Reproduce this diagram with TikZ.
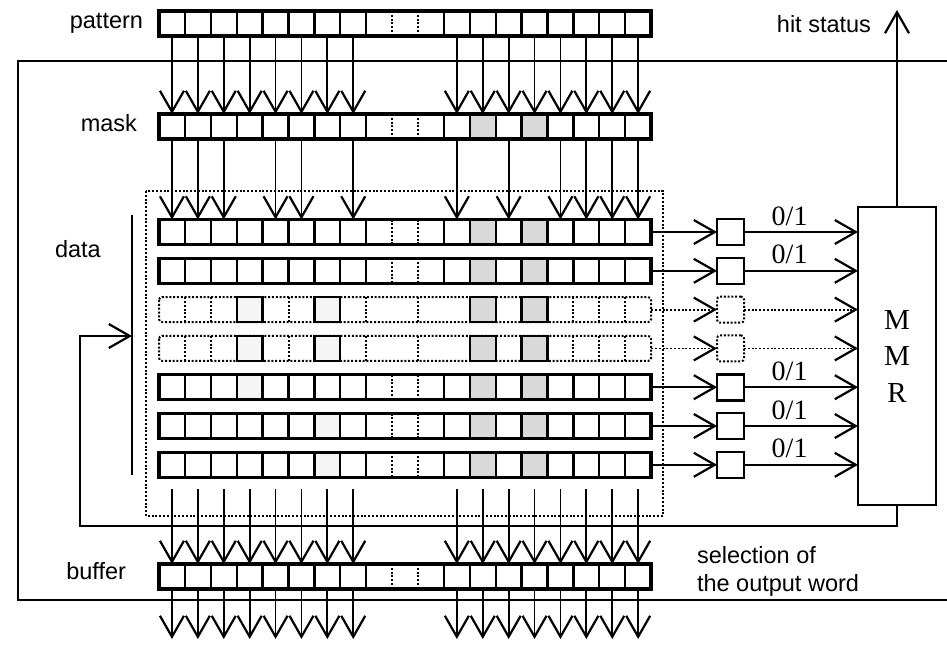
\documentclass[tikz,border=0pt]{standalone}
\usepackage{fontspec}
\setmainfont{Liberation Sans}
\newfontfamily\romfont{Liberation Serif}
\usetikzlibrary{arrows.meta}

\begin{document}
\begin{tikzpicture}[x=1pt, y=-1pt,
    every node/.style={inner sep=0pt, outer sep=0pt},
    cell/.style={draw, line width=2.3pt, minimum width=25.9pt, minimum height=25pt},
    ghost/.style={minimum width=25.9pt, minimum height=25pt},
    regline/.style={line width=3.4pt},
    dotline/.style={line width=2pt, dash pattern=on 2pt off 1.8pt},
    shaded/.style={fill=gray!30, draw, line width=2.3pt},
    faint/.style={fill=gray!8, draw, line width=2.3pt},
    bus/.style={line width=1.8pt, -{Straight Barb[length=21pt, width=24pt, line width=2.2pt]}},
    dotbus/.style={bus, dash pattern=on 2pt off 1.8pt},
    wire/.style={line width=2pt},
    cmp/.style={draw, line width=2.6pt, minimum width=27pt, minimum height=26pt},
    lbl/.style={font=\fontsize{23.5}{27}\selectfont},
    bit/.style={font=\romfont\fontsize{28}{30}\selectfont}]
    \useasboundingbox (0,0) rectangle (947,646);
    \def\bits{1,2,3,4,5,6,7,8,12,13,14,15,16,17,18,19}
    \foreach \r/\y in {pat/23.5, msk/126.5, d1/232, d2/270.8, d5/387.2, d6/426, d7/464.8, buf/576.5}{
        \foreach \c in \bits
            \node[cell] (\r-\c) at ({159+(\c-0.5)*25.9},\y) {};
        \foreach \c in {9,10,11}
            \node[ghost] (\r-\c) at ({159+(\c-0.5)*25.9},\y) {};
        \draw[dotline] (\r-9.north east) -- (\r-9.south east);
        \draw[dotline] (\r-10.north east) -- (\r-10.south east);
    }
    \foreach \r in {msk,d1,d2,d5,d6,d7}
        \foreach \c in {13,15}
            \path[shaded] (\r-\c.north west) rectangle (\r-\c.south east);
    \foreach \r/\c in {d5/4, d6/7, d7/7}
        \path[faint] (\r-\c.north west) rectangle (\r-\c.south east);
    \foreach \r in {pat,msk,d1,d2,d5,d6,d7,buf}
        \draw[regline] (\r-1.north west) rectangle (\r-19.south east);
    \foreach \r/\y in {d3/309.6, d4/348.4}{
        \foreach \c in {1,...,19}
            \node[ghost] (\r-\c) at ({159+(\c-0.5)*25.9},\y) {};
        \draw[dotline, rounded corners=3pt] (\r-1.north west) rectangle (\r-19.south east);
        \foreach \c in {1,2,5,8,10,16,17,18}
            \draw[dotline] (\r-\c.north east) -- (\r-\c.south east);
        \foreach \c in {4,7}
            \path[faint] (\r-\c.north west) rectangle (\r-\c.south east);
        \foreach \c in {13,15}
            \path[shaded] (\r-\c.north west) rectangle (\r-\c.south east);
    }
    \draw[dotline] (146,191) rectangle (663,516);
    \foreach \c in \bits
        \draw[bus] (pat-\c.south) -- (msk-\c.north);
    \foreach \c in {1,2,3,5,6,8,12,14,16,17,18,19}
        \draw[bus] (msk-\c.south) -- (d1-\c.north);
    \foreach \c in \bits
        \draw[bus] ([yshift=-12pt]d7-\c.south) -- (buf-\c.north);
    \foreach \c in \bits
        \draw[bus] (buf-\c.south) -- ++(0,50);
    \node[draw, line width=2.4pt, minimum width=78pt, minimum height=298pt, align=center,
        font=\romfont\fontsize{29}{36.5}\selectfont] (mmr) at (897,356) {M\\M\\R};
    \foreach \i/\y in {1/232, 2/270.8, 5/387.2, 6/426, 7/464.8}{
        \node[cmp] (q\i) at (730.5,\y) {};
        \draw[bus] (d\i-19.east) -- (q\i.west);
        \draw[bus] (q\i.east) -- (q\i.east -| mmr.west)
            node[bit, pos=0.4, anchor=base, yshift=7pt] (v\i) {0/1};
    }
    \foreach \i/\y in {3/309.6, 4/348.4}{
        \node[cmp, dash pattern=on 2pt off 1.8pt, line width=2pt, rounded corners=3pt] (q\i) at (730.5,\y) {};
        \draw[dotbus] (d\i-19.east) -- (q\i.west);
        \draw[dotbus] (q\i.east) -- (q\i.east -| mmr.west);
    }
    \coordinate (hittip) at (899,10);
    \draw[bus] (mmr.north) -- (mmr.north |- hittip);
    \coordinate (ftl) at (18,61);
    \coordinate (ftr) at (947,61);
    \coordinate (fbl) at (18,600);
    \coordinate (fbr) at (947,600);
    \draw[wire] (ftr) -- (ftl) -- (fbl) -- (fbr);
    \draw[line width=2.6pt] (132,215) coordinate (bartop) -- (132,475) coordinate (barbot);
    \coordinate (busin) at (132,336);
    \draw[bus] (mmr.south) -- ++(0,21) -- (80,526) -- (80,336) -- (busin);
    \node[lbl, anchor=base east] (patlbl) at (143,28) {pattern};
    \node[lbl, anchor=base east] (msklbl) at (137,131) {mask};
    \node[lbl, anchor=base west] (datlbl) at (55,257) {data};
    \node[lbl, anchor=base east] (buflbl) at (126,579) {buffer};
    \node[lbl, anchor=base east] (hitlbl) at (871,32) {hit status};
    \node[lbl, anchor=base west] (sel1) at (697,563) {selection of};
    \node[lbl, anchor=base west] (sel2) at (697,591) {the output word};
\end{tikzpicture}
\end{document}
